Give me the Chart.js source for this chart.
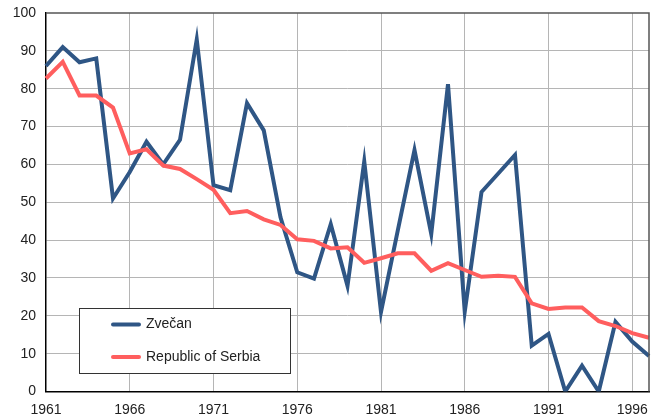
<!DOCTYPE html>
<html>
<head>
<meta charset="utf-8">
<script src="https://cdn.jsdelivr.net/npm/chart.js@4/dist/chart.umd.min.js"></script>
<style>
  html, body { margin: 0; padding: 0; background: #fff; }
  #wrap { width: 660px; height: 420px; }
</style>
</head>
<body>
<div id="wrap"><canvas id="grafico"></canvas></div>
<script>
const anos = [
  1961, 1962, 1963, 1964, 1965, 1966, 1967, 1968, 1969, 1970,
  1971, 1972, 1973, 1974, 1975, 1976, 1977, 1978, 1979, 1980,
  1981, 1982, 1983, 1984, 1985, 1986, 1987, 1988, 1989, 1990,
  1991, 1992, 1993, 1994, 1995, 1996, 1997,
];
const anosRotulados = [1961, 1966, 1971, 1976, 1981, 1986, 1991, 1996];
const valoresZvecan = [
  86, 91, 87, 88, 51, 58, 66, 60, 66.5, 93,
  54.5, 53.2, 76.2, 69, 46, 31.5, 29.8, 44.2, 27.9, 60.8,
  21, 42.5, 63.8, 41.6, 81.2, 21.1, 52.7, 57.6, 62.5, 12.1,
  15.2, 0, 6.8, 0, 18.4, 13.2, 9.4,
];
const valoresSerbia = [
  82.7, 87.1, 78.2, 78.2, 75, 62.9, 64, 59.7, 58.8, 56.1,
  53.3, 47.1, 47.7, 45.5, 44, 40.2, 39.8, 37.8, 38.1, 34,
  35.2, 36.5, 36.5, 31.9, 33.9, 32.1, 30.3, 30.6, 30.3, 23.3,
  21.8, 22.2, 22.2, 18.6, 17.3, 15.4, 14.2,
];
const ticksY = [0, 10, 20, 30, 40, 50, 60, 70, 80, 90, 100];

const corAzul = '#2f5685';
const corVermelha = '#ff5e5e';

// moldura de cima/direita e legenda dentro da area do grafico
const molduraLegenda = {
  id: 'molduraLegenda',
  afterDraw(chart) {
    const ctx = chart.ctx;
    const a = chart.chartArea;
    ctx.save();
    ctx.strokeStyle = '#555';
    ctx.lineWidth = 1.5;
    ctx.beginPath();
    ctx.moveTo(a.left, a.top);
    ctx.lineTo(a.right, a.top);
    ctx.lineTo(a.right, a.bottom);
    ctx.stroke();

    // legenda
    const x = 79, y = 308, w = 211, h = 65;
    ctx.fillStyle = '#fff';
    ctx.fillRect(x, y, w, h);
    ctx.strokeStyle = '#333';
    ctx.lineWidth = 1;
    ctx.strokeRect(x + 0.5, y + 0.5, w, h);

    ctx.font = '14px "Liberation Sans", Arial, sans-serif';
    ctx.textBaseline = 'middle';
    chart.data.datasets.forEach((ds, i) => {
      const ly = y + 16.5 + i * 32.5;
      ctx.strokeStyle = ds.borderColor;
      ctx.lineWidth = 4;
      ctx.lineCap = 'round';
      ctx.beginPath();
      ctx.moveTo(113, ly);
      ctx.lineTo(139, ly);
      ctx.stroke();
      ctx.fillStyle = '#222';
      ctx.fillText(ds.label, 146, ly);
    });
    ctx.restore();
  },
};

new Chart(document.getElementById('grafico').getContext('2d'), {
  type: 'line',
  data: {
    labels: anos,
    datasets: [
      {
        label: 'Zvečan',
        data: valoresZvecan,
        borderColor: corAzul,
        backgroundColor: corAzul,
        borderWidth: 4,
        pointRadius: 0,
        tension: 0,
        fill: false,
        order: 2,
      },
      {
        label: 'Republic of Serbia',
        data: valoresSerbia,
        borderColor: corVermelha,
        backgroundColor: corVermelha,
        borderWidth: 4,
        pointRadius: 0,
        tension: 0,
        fill: false,
        order: 1,
      },
    ],
  },
  options: {
    responsive: true,
    maintainAspectRatio: false,
    animation: false,
    layout: {
      padding: { top: 13, right: 11, left: 0, bottom: 0 },
    },
    plugins: {
      legend: { display: false },
      tooltip: { enabled: false },
    },
    scales: {
      x: {
        type: 'category',
        offset: false,
        afterFit(scale) {
          scale.height = 28.5;
          scale.paddingLeft = 0;
          scale.paddingRight = 0;
        },
        border: { color: '#000', width: 1.5 },
        grid: {
          drawTicks: false,
          color: (c) =>
            c.index > 0 && anosRotulados.includes(anos[c.index]) ? '#b5b5b5' : 'rgba(0,0,0,0)',
        },
        ticks: {
          autoSkip: false,
          maxRotation: 0,
          padding: 10,
          color: '#222',
          font: { family: '"Liberation Sans", Arial, sans-serif', size: 14 },
          callback: function (value, index) {
            return anosRotulados.includes(anos[index]) ? String(anos[index]) : '';
          },
        },
      },
      y: {
        min: 0,
        max: 100,
        afterFit(scale) {
          scale.width = 46;
          scale.paddingTop = 0;
          scale.paddingBottom = 0;
        },
        afterBuildTicks(scale) {
          scale.ticks = ticksY.map((v) => ({ value: v }));
        },
        border: { color: '#000', width: 1.5 },
        grid: {
          drawTicks: false,
          color: (c) => (c.tick.value === 0 || c.tick.value === 100 ? 'rgba(0,0,0,0)' : '#b5b5b5'),
        },
        ticks: {
          padding: 10,
          color: '#222',
          font: { family: '"Liberation Sans", Arial, sans-serif', size: 14 },
        },
      },
    },
  },
  plugins: [molduraLegenda],
});
</script>
</body>
</html>
